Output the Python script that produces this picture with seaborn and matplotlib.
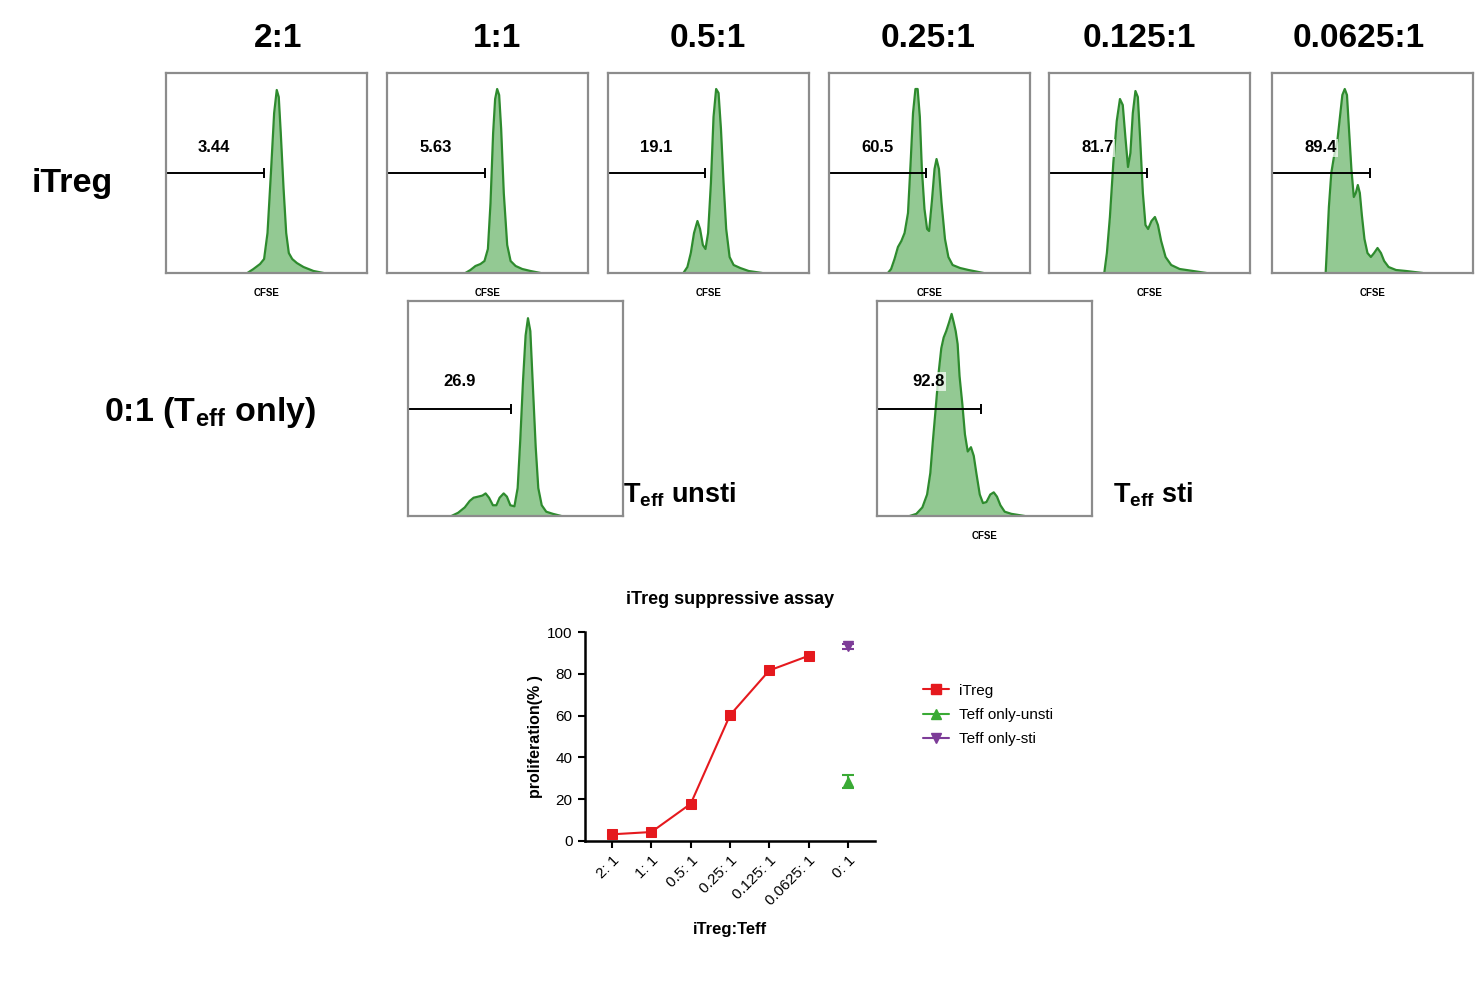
import numpy as np
import pandas as pd
import matplotlib
matplotlib.use("Agg")
import matplotlib.pyplot as plt
from matplotlib.lines import Line2D
import seaborn as sns

# ---- CFSE histograms: position (% of panel width) vs count (% of panel height) ----
cfse_2_1 = [40.5, 43.5, 46.8, 48.8, 50.5, 52.2, 53.8, 55.1, 56.1, 57.1, 58.5, 59.8, 61.1, 62.8, 65.1, 68.4, 73.4, 78.4]
count_2_1 = [0, 2, 4.5, 7, 20, 50, 80, 91.5, 88, 70, 42, 20, 10, 7, 5, 3, 1, 0]

cfse_1_1 = [39.0, 41.5, 44.0, 46.5, 48.5, 50.2, 51.5, 52.8, 53.8, 54.8, 55.8, 56.8, 58.1, 59.8, 61.5, 64.0, 67.3, 71.4, 76.4]
count_1_1 = [0, 1.5, 3.5, 4.5, 6, 12, 35, 70, 87, 92, 89, 72, 40, 14, 6, 3.5, 2, 1, 0]

cfse_05_1 = [37.5, 39.5, 41.2, 42.8, 44.5, 45.8, 47.2, 48.5, 49.8, 51.2, 52.5, 53.8, 55.0, 56.2, 57.5, 58.8, 60.5, 62.5, 65.8, 70.0, 76.7]
count_05_1 = [0, 3, 10, 20, 26, 22, 14, 12, 20, 45, 78, 92, 90, 72, 45, 22, 8, 4, 2.5, 1, 0]

cfse_025_1 = [29.3, 30.9, 32.6, 34.3, 36.0, 37.6, 39.3, 40.6, 41.8, 43.0, 44.1, 45.2, 46.2, 47.5, 48.8, 49.8, 51.2, 52.5, 53.5, 54.7, 56.0, 57.7, 59.4, 61.5, 65.2, 69.4, 76.9]
count_025_1 = [0, 2, 7, 13, 16, 20, 30, 55, 80, 92, 92, 78, 52, 32, 22, 21, 36, 52, 57, 52, 35, 17, 8, 4, 2.5, 1.5, 0]

cfse_0125_1 = [27.5, 28.8, 30.3, 32.0, 33.7, 35.3, 36.7, 38.0, 39.3, 40.5, 41.7, 43.0, 44.2, 45.3, 46.7, 48.0, 49.3, 51.0, 52.7, 54.2, 55.8, 58.0, 60.8, 65.0, 71.7, 78.3]
count_0125_1 = [0, 10, 28, 55, 76, 87, 84, 68, 53, 60, 80, 91, 88, 68, 40, 24, 22, 26, 28, 24, 16, 8, 4, 2, 1, 0]

cfse_00625_1 = [26.7, 27.3, 28.3, 29.5, 30.8, 32.5, 33.8, 35.0, 36.2, 37.3, 38.3, 39.5, 40.7, 41.7, 42.7, 43.7, 44.7, 46.0, 47.5, 49.2, 50.8, 52.5, 54.2, 55.8, 58.0, 61.7, 66.7, 75.0]
count_00625_1 = [0, 12, 33, 50, 58, 66, 78, 89, 92, 89, 72, 52, 38, 40, 44, 40, 29, 17, 10, 8, 10, 12.5, 10, 6, 3, 1.5, 1, 0]

cfse_unsti = [20.2, 23.3, 26.4, 28.7, 30.5, 32.6, 34.6, 36.1, 37.7, 39.5, 41.1, 42.6, 44.5, 46.0, 47.6, 49.5, 51.0, 52.2, 53.5, 54.7, 55.8, 56.9, 58.1, 59.4, 60.6, 62.2, 64.3, 67.4, 71.3]
count_unsti = [0, 1.5, 4, 7, 8.5, 9, 9.5, 10.5, 8.5, 5, 5, 8.5, 10.5, 9, 5, 4.5, 13, 35, 63, 84, 92, 86, 60, 32, 13, 5, 2, 1, 0]

cfse_sti = [15.2, 18.3, 21.1, 23.3, 24.8, 26.0, 27.3, 28.7, 29.9, 31.0, 32.2, 33.5, 34.7, 35.7, 36.6, 37.5, 38.4, 39.7, 40.9, 42.2, 43.7, 45.0, 46.2, 47.8, 49.3, 50.9, 52.7, 54.3, 55.8, 57.4, 59.4, 62.5, 68.7]
count_sti = [0, 1, 4, 10, 20, 35, 50, 67, 78, 83, 86, 90, 94, 90, 86, 80, 65, 52, 38, 30, 32, 28, 20, 10, 6, 6.5, 10, 11, 9, 5, 2, 1, 0]

# gate (divided cells) upper bound and % label
gate_end = [48.8, 49.0, 48.5, 48.2, 48.7, 48.8]
gate_pct = ["3.44", "5.63", "19.1", "60.5", "81.7", "89.4"]
gate_end_unsti, gate_pct_unsti = 48.1, "26.9"
gate_end_sti, gate_pct_sti = 48.5, "92.8"

ratio_titles = ["2:1", "1:1", "0.5:1", "0.25:1", "0.125:1", "0.0625:1"]

# ---- summary plot ----
ratio_labels = ["2: 1", "1: 1", "0.5: 1", "0.25: 1", "0.125: 1", "0.0625: 1", "0: 1"]
itreg_prolif = [3.2, 4.3, 17.8, 60.2, 81.6, 88.6]
teff_unsti_mean, teff_unsti_err = 28.4, 3.0
teff_sti_mean, teff_sti_err = 93.1, 1.2

sns.set_style("ticks")
plt.rcParams['font.family'] = ['Liberation Sans', 'DejaVu Sans']
plt.rcParams['mathtext.fontset'] = 'custom'
plt.rcParams['mathtext.rm'] = 'Liberation Sans'
plt.rcParams['mathtext.bf'] = 'Liberation Sans:bold'
plt.rcParams['text.color'] = 'black'
plt.rcParams['axes.labelcolor'] = 'black'
plt.rcParams['xtick.color'] = 'black'
plt.rcParams['ytick.color'] = 'black'

W, H = 1484, 990
fig = plt.figure(figsize=(W / 100, H / 100), dpi=100)

FILL = '#93c993'
EDGE = '#2e8b2e'
FRAME = '#8c8c8c'


def px_axes(left, top, right, bottom):
    return fig.add_axes([left / W, 1 - bottom / H, (right - left) / W, (bottom - top) / H])


def histo(ax, xs, ys, gate, pct, cfse_label=True):
    ax.fill_between(xs, ys, 0, color=FILL, lw=0)
    ax.plot(xs, ys, color=EDGE, lw=1.6, solid_joinstyle='round')
    ax.set_xlim(0, 100)
    ax.set_ylim(0, 100)
    ax.set_xticks([])
    ax.set_yticks([])
    for s in ax.spines.values():
        s.set_color(FRAME)
        s.set_linewidth(1.6)
    ax.plot([0, gate], [50, 50], color='black', lw=1.4, clip_on=False)
    ax.plot([0, gate], [50, 50], ls='none', marker='|', ms=7, mew=1.4, color='black', clip_on=False)
    ax.text(24, 62.5, pct, ha='center', va='center', fontsize=12, fontweight='bold',
            bbox=dict(boxstyle='square,pad=0.1', fc='white', ec='none', alpha=0.7))
    if cfse_label:
        ax.text(50, -10, 'CFSE', ha='center', va='center', fontsize=7, fontweight='bold',
                clip_on=False)


row1_left = [166, 387, 608, 829, 1049, 1272]
row1_data = [(cfse_2_1, count_2_1), (cfse_1_1, count_1_1), (cfse_05_1, count_05_1),
             (cfse_025_1, count_025_1), (cfse_0125_1, count_0125_1), (cfse_00625_1, count_00625_1)]
title_x = [278, 497, 708, 928, 1139, 1359]

for i, (lft, (xs, ys)) in enumerate(zip(row1_left, row1_data)):
    ax = px_axes(lft, 73, lft + 201, 273)
    histo(ax, xs, ys, gate_end[i], gate_pct[i])
    fig.text(title_x[i] / W, 1 - 47 / H, ratio_titles[i], ha='center', va='baseline',
             fontsize=24, fontweight='bold')

ax_a = px_axes(408, 301, 623, 516)
histo(ax_a, cfse_unsti, count_unsti, gate_end_unsti, gate_pct_unsti, cfse_label=False)
ax_b = px_axes(877, 301, 1092, 516)
histo(ax_b, cfse_sti, count_sti, gate_end_sti, gate_pct_sti)
ax_b.texts[-1].set_y(-9.5)

fig.text(32 / W, 1 - 192 / H, 'iTreg', ha='left', va='baseline', fontsize=24.5, fontweight='bold')
fig.text(104 / W, 1 - 421 / H, r'0:1 (T$_{\mathbf{eff}}$ only)', ha='left', va='baseline',
         fontsize=24.5, fontweight='bold')
fig.text(623 / W, 1 - 502 / H, r'T$_{\mathbf{eff}}$ unsti', ha='left', va='baseline',
         fontsize=19.5, fontweight='bold')
fig.text(1113 / W, 1 - 502 / H, r'T$_{\mathbf{eff}}$ sti', ha='left', va='baseline',
         fontsize=19.5, fontweight='bold')

# ---- summary line chart ----
RED = '#e5191e'
GREEN = '#3aaa35'
PURPLE = '#7d3c98'

ax = px_axes(585, 632, 875, 841)
df = pd.DataFrame({'pos': np.arange(len(itreg_prolif)), 'prolif': itreg_prolif})
sns.lineplot(data=df, x='pos', y='prolif', ax=ax, color=RED, marker='s', markersize=7.5,
             markeredgecolor=RED, linewidth=1.5, legend=False)
last = len(ratio_labels) - 1
ax.errorbar([last], [teff_unsti_mean], yerr=[teff_unsti_err], fmt='^', color=GREEN, ms=7.5,
            capsize=4.5, elinewidth=1.5, capthick=1.5)
ax.errorbar([last], [teff_sti_mean], yerr=[teff_sti_err], fmt='v', color=PURPLE, ms=7.5,
            capsize=4.5, elinewidth=1.5, capthick=1.5)

ax.set_xlim(-0.69, 6.69)
ax.set_ylim(0, 100)
ax.set_yticks([0, 20, 40, 60, 80, 100])
ax.set_xticks(range(len(ratio_labels)))
ax.set_xticklabels(ratio_labels, rotation=45, ha='right', rotation_mode='anchor')
for lab in ax.get_xticklabels() + ax.get_yticklabels():
    lab.set_fontsize(11)
ax.tick_params(direction='out', length=5, width=1.5, colors='black', pad=4)
sns.despine(ax=ax)
for s in ['left', 'bottom']:
    ax.spines[s].set_linewidth(1.8)
    ax.spines[s].set_color('black')
ax.set_xlabel('iTreg:Teff', fontsize=12, fontweight='bold', labelpad=10)
ax.set_ylabel('proliferation(% )', fontsize=11.5, fontweight='bold', labelpad=3)
ax.set_title('iTreg suppressive assay', fontsize=13, fontweight='bold', pad=20)

handles = [
    Line2D([], [], color=RED, marker='s', ms=6.5, lw=1.5),
    Line2D([], [], color=GREEN, marker='^', ms=6.5, lw=1.5),
    Line2D([], [], color=PURPLE, marker='v', ms=6.5, lw=1.5),
]
fig.legend(handles, ['iTreg', 'Teff only-unsti', 'Teff only-sti'], loc='upper left',
           bbox_to_anchor=(915 / W, 1 - 676 / H), frameon=False, fontsize=11,
           handlelength=1.7, handletextpad=0.7, labelspacing=0.68, borderpad=0)

fig.savefig('out.png', dpi=100)
